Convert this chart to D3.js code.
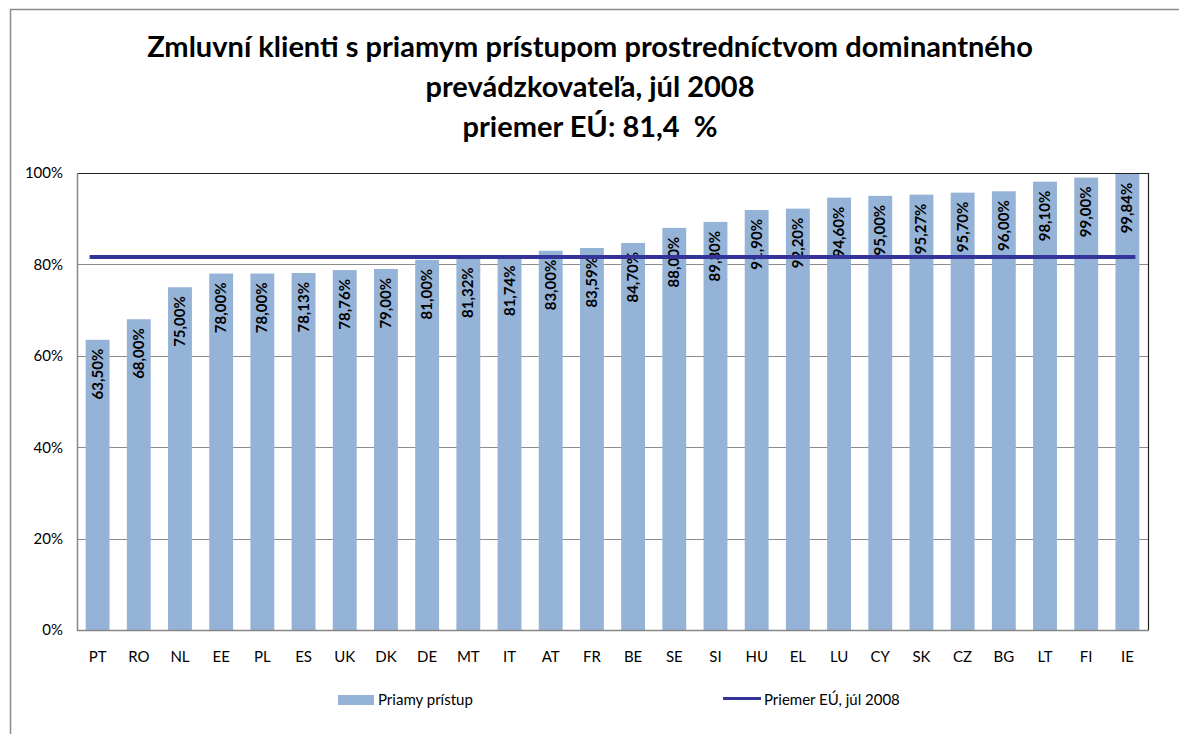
<!DOCTYPE html>
<html>
<head>
<meta charset="utf-8">
<script src="https://cdn.jsdelivr.net/npm/d3@7"></script>
<style>
  body { margin: 0; background: #fff; }
  svg { font-family: Lato, "Open Sans", sans-serif; }
</style>
</head>
<body>
<div id="chart"></div>
<script>
// data
var countries = ["PT","RO","NL","EE","PL","ES","UK","DK","DE","MT","IT","AT","FR","BE","SE","SI","HU","EL","LU","CY","SK","CZ","BG","LT","FI","IE"];
var directAccess = [63.50,68.00,75.00,78.00,78.00,78.13,78.76,79.00,81.00,81.32,81.74,83.00,83.59,84.70,88.00,89.30,91.90,92.20,94.60,95.00,95.27,95.70,96.00,98.10,99.00,99.84];
var euAverage = 81.4;
var yTicks = [0, 20, 40, 60, 80, 100];
var titleLines = ["Zmluvní klienti s priamym prístupom prostredníctvom dominantného", "prevádzkovateľa, júl 2008", "priemer EÚ: 81,4  %"];

var W = 1179, H = 734;
var margin = {top: 173, right: 31, bottom: 104, left: 77};
var width = W - margin.left - margin.right,
    height = H - margin.top - margin.bottom;

var svg = d3.select("#chart").append("svg")
  .attr("width", W)
  .attr("height", H);

// outer chart frame (only left and top edges visible)
svg.append("path")
  .attr("d", "M10.5," + H + "V9.5H" + W)
  .attr("fill", "none")
  .attr("stroke", "#8c8c8c")
  .attr("stroke-width", 1.5);

// title
svg.append("g").selectAll("text")
  .data(titleLines)
  .enter().append("text")
  .attr("x", 590)
  .attr("y", function(d, i) { return 57 + i * 40; })
  .attr("text-anchor", "middle")
  .attr("xml:space", "preserve")
  .style("white-space", "pre")
  .style("font-size", "29px")
  .style("font-weight", "bold")
  .text(function(d) { return d; });

var g = svg.append("g")
  .attr("transform", "translate(" + margin.left + "," + margin.top + ")");

var x = d3.scaleBand()
  .domain(countries)
  .range([0, width])
  .paddingInner(0.42)
  .paddingOuter(0.21);

var y = d3.scaleLinear()
  .domain([0, 100])
  .range([height, 0]);

// gridlines
g.append("g").selectAll("line")
  .data(yTicks.filter(function(d) { return d > 0 && d < 100; }))
  .enter().append("line")
  .attr("x1", 0).attr("x2", width)
  .attr("y1", function(d) { return Math.round(y(d)) + 0.5; })
  .attr("y2", function(d) { return Math.round(y(d)) + 0.5; })
  .attr("stroke", "#8c8c8c")
  .attr("stroke-width", 1);

// bars
g.append("g").selectAll("rect")
  .data(directAccess)
  .enter().append("rect")
  .attr("x", function(d, i) { return x(countries[i]); })
  .attr("y", function(d) { return y(d); })
  .attr("width", x.bandwidth())
  .attr("height", function(d) { return height - y(d); })
  .attr("fill", "#95b3d7");

// plot frame: top/right dark, left/bottom gray
g.append("path")
  .attr("d", "M0.5,0.5H" + (width + 0.5) + "V" + (height + 0.5))
  .attr("fill", "none").attr("stroke", "#222").attr("stroke-width", 1.2);
g.append("path")
  .attr("d", "M0.5,0.5V" + (height + 0.5) + "H" + (width + 0.5))
  .attr("fill", "none").attr("stroke", "#868686").attr("stroke-width", 1.5);

// y axis
var yAxis = d3.axisLeft(y)
  .tickValues(yTicks)
  .tickSize(0)
  .tickPadding(14)
  .tickFormat(function(d) { return d + "%"; });

var ya = g.append("g").call(yAxis);
ya.select(".domain").remove();
ya.selectAll("text").style("font-size", "15px").style("font-family", "Lato, sans-serif").attr("fill", "#000");

// x axis labels
var xAxis = d3.axisBottom(x).tickSize(0).tickPadding(21);
var xa = g.append("g").attr("transform", "translate(0," + height + ")").call(xAxis);
xa.select(".domain").remove();
xa.selectAll("text").style("font-size", "15px").style("font-family", "Lato, sans-serif").attr("fill", "#000");

// value labels, rotated, inside top of bars
var fmt = function(v) { return v.toFixed(2).replace(".", ",") + "%"; };
g.append("g").selectAll("text")
  .data(directAccess)
  .enter().append("text")
  .attr("transform", function(d, i) {
    return "translate(" + (x(countries[i]) + x.bandwidth() / 2 + 5) + "," + (y(d) + 9) + ") rotate(-90)";
  })
  .attr("text-anchor", "end")
  .style("font-size", "15px")
  .style("font-weight", "bold")
  .text(fmt);

// EU average line, drawn over the labels
var firstC = x(countries[0]) + x.bandwidth() / 2 - 8,
    lastC = x(countries[countries.length - 1]) + x.bandwidth() / 2 + 8;
g.append("line")
  .attr("x1", firstC).attr("x2", lastC)
  .attr("y1", y(euAverage) - 1).attr("y2", y(euAverage) - 1)
  .attr("stroke", "#333399")
  .attr("stroke-width", 4);

// legend
var leg = svg.append("g");
leg.append("rect")
  .attr("x", 338).attr("y", 695)
  .attr("width", 36).attr("height", 10)
  .attr("fill", "#95b3d7");
leg.append("text")
  .attr("x", 378).attr("y", 705)
  .style("font-size", "15px")
  .text("Priamy prístup");
leg.append("line")
  .attr("x1", 723).attr("x2", 761)
  .attr("y1", 698.5).attr("y2", 698.5)
  .attr("stroke", "#333399")
  .attr("stroke-width", 3);
leg.append("text")
  .attr("x", 764).attr("y", 705)
  .style("font-size", "15px")
  .text("Priemer EÚ, júl 2008");
</script>
</body>
</html>
